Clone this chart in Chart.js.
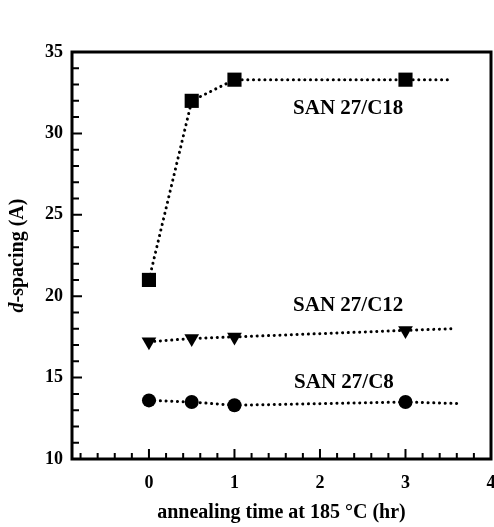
<!DOCTYPE html>
<html>
<head>
<meta charset="utf-8">
<script src="https://cdn.jsdelivr.net/npm/chart.js@4.4.0/dist/chart.umd.min.js"></script>
<style>
  html, body { margin: 0; padding: 0; background: #fff; }
  canvas { display: block; }
</style>
</head>
<body>
<canvas id="chart" width="494" height="527"></canvas>
<script>
// annealing time (hr) of each measurement
const times = [0, 0.5, 1, 3];
// d-spacing (A) for each sample
const c18 = [21.0, 32.0, 33.3, 33.3];
const c12 = [17.2, 17.4, 17.5, 17.9];
const c8 = [13.6, 13.5, 13.3, 13.5];
// end of the dotted guide line past the last point, per series
const tailX = [3.53, 3.53, 3.64];
const tailY = [33.3, 18.0, 13.4];
const seriesNames = ["SAN 27/C18", "SAN 27/C12", "SAN 27/C8"];
const xTicks = [0, 1, 2, 3, 4];
const yTicks = [10, 15, 20, 25, 30, 35];

const serif = "'Liberation Serif', 'Times New Roman', serif";
const font = { family: serif, size: 18, weight: 'bold' };

function series(vals, i) {
  const pts = times.map((t, k) => ({ x: t, y: vals[k] }));
  pts.push({ x: tailX[i], y: tailY[i] });
  return pts;
}

const styles = [
  { pointStyle: 'rect', radius: 10, rotation: 0 },
  { pointStyle: 'triangle', radius: 8.5, rotation: 180 },
  { pointStyle: 'circle', radius: 7, rotation: 0 }
];

const datasets = [c18, c12, c8].map((vals, i) => ({
  label: seriesNames[i],
  data: series(vals, i),
  borderColor: '#000',
  backgroundColor: '#000',
  borderWidth: 3,
  borderDash: [0.1, 5.6],
  borderCapStyle: 'round',
  tension: 0,
  pointStyle: styles[i].pointStyle,
  pointRotation: styles[i].rotation,
  pointRadius: c => (c.dataIndex < times.length ? styles[i].radius : 0),
  pointHoverRadius: c => (c.dataIndex < times.length ? styles[i].radius : 0),
  pointBorderWidth: 0
}));

// box, inward ticks, series labels and the y title (italic d)
const decor = {
  id: 'decor',
  beforeDatasetsDraw(chart) {
    const { ctx, chartArea: a, scales: { x, y } } = chart;
    ctx.save();
    ctx.strokeStyle = '#000';
    ctx.lineWidth = 2;
    ctx.beginPath();
    for (let v = -8; v <= 38; v += 2) {
      const px = x.getPixelForValue(v / 10);
      const len = v % 10 === 0 ? 10 : 6;
      ctx.moveTo(px, a.bottom);
      ctx.lineTo(px, a.bottom - len);
    }
    for (let v = 11; v <= 34; v++) {
      const py = y.getPixelForValue(v);
      const len = v % 5 === 0 ? 10 : 7;
      ctx.moveTo(a.left, py);
      ctx.lineTo(a.left + len, py);
    }
    ctx.stroke();
    ctx.lineWidth = 3;
    ctx.strokeRect(a.left, a.top, a.right - a.left, a.bottom - a.top);
    ctx.restore();
  },
  afterDatasetsDraw(chart) {
    const { ctx, chartArea: a, scales: { x, y } } = chart;
    const labelAt = [[2.33, 31.5], [2.33, 19.45], [2.28, 14.7]];
    ctx.save();
    ctx.fillStyle = '#000';
    ctx.font = 'bold 21px ' + serif;
    ctx.textAlign = 'center';
    ctx.textBaseline = 'middle';
    seriesNames.forEach((name, i) => {
      ctx.fillText(name, x.getPixelForValue(labelAt[i][0]), y.getPixelForValue(labelAt[i][1]));
    });

    // y axis title
    const cy = (a.top + a.bottom) / 2;
    ctx.translate(18, cy);
    ctx.rotate(-Math.PI / 2);
    const f1 = 'italic bold 20px ' + serif;
    const f2 = 'bold 20px ' + serif;
    ctx.font = f1;
    const w1 = ctx.measureText('d').width;
    ctx.font = f2;
    const w2 = ctx.measureText('-spacing (A)').width;
    ctx.textAlign = 'left';
    const sx = -(w1 + w2) / 2;
    ctx.font = f1;
    ctx.fillText('d', sx, 0);
    ctx.font = f2;
    ctx.fillText('-spacing (A)', sx + w1, 0);
    ctx.restore();
  }
};

new Chart(document.getElementById('chart').getContext('2d'), {
  type: 'line',
  data: { datasets },
  options: {
    responsive: false,
    animation: false,
    layout: { autoPadding: false, padding: { top: 52, right: 3, bottom: 0, left: 0 } },
    plugins: { legend: { display: false }, tooltip: { enabled: false } },
    scales: {
      x: {
        type: 'linear',
        min: -0.9,
        max: 4,
        afterBuildTicks: s => { s.ticks = xTicks.map(v => ({ value: v })); },
        afterFit: s => { s.height = 68; s.paddingLeft = 0; s.paddingRight = 0; },
        grid: { display: false, drawTicks: false },
        border: { display: false },
        ticks: { font, color: '#000', padding: 14, maxRotation: 0, autoSkip: false },
        title: {
          display: true,
          text: 'annealing time at 185 °C (hr)',
          font: { family: serif, size: 20, weight: 'bold' },
          color: '#000',
          padding: { top: 0, bottom: 2 }
        }
      },
      y: {
        min: 10,
        max: 35,
        afterBuildTicks: s => { s.ticks = yTicks.map(v => ({ value: v })); },
        afterFit: s => { s.width = 72; s.paddingTop = 0; s.paddingBottom = 0; },
        grid: { display: false, drawTicks: false },
        border: { display: false },
        ticks: { font, color: '#000', padding: 9 }
      }
    }
  },
  plugins: [decor]
});
</script>
</body>
</html>
